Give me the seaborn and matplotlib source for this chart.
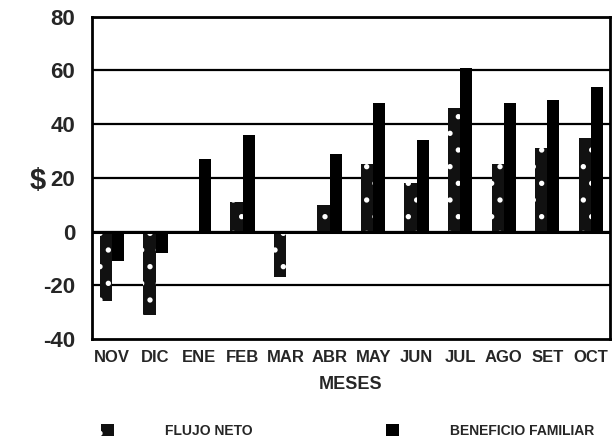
import pandas as pd
import matplotlib
matplotlib.use("Agg")
import matplotlib.pyplot as plt
import seaborn as sns

meses = ["NOV", "DIC", "ENE", "FEB", "MAR", "ABR", "MAY", "JUN", "JUL", "AGO", "SET", "OCT"]
flujo_neto = [-26, -31, 0, 11, -17, 10, 25, 18, 46, 25, 31, 35]
beneficio_familiar = [-11, -8, 27, 36, 0, 29, 48, 34, 61, 48, 49, 54]
series = ["FLUJO NETO", "BENEFICIO FAMILIAR"]

df = pd.DataFrame({
    "Mes": meses * 2,
    "Valor": flujo_neto + beneficio_familiar,
    "Serie": [series[0]] * len(meses) + [series[1]] * len(meses),
})

sns.set_style("white")
plt.rcParams["font.family"] = ["Liberation Sans", "DejaVu Sans"]
plt.rcParams["font.weight"] = "bold"
plt.rcParams["axes.unicode_minus"] = False
plt.rcParams["hatch.linewidth"] = 1.4

fig = plt.figure(figsize=(6.13, 4.42), dpi=100)
ax = fig.add_axes([0.150, 0.233, 0.845, 0.729])

sns.barplot(data=df, x="Mes", y="Valor", hue="Serie", order=meses, hue_order=series,
            palette=["black", "black"], width=0.56, saturation=1, ax=ax,
            edgecolor="black", linewidth=0)

# speckled texture on the first series
n = len(meses)
for p in ax.patches[:n]:
    p.set_facecolor("#111111")
    p.set_hatch(".")
    p.set_edgecolor("white")
    p.set_linewidth(0)

ax.set_ylim(-40, 80)
ax.set_xlim(-0.46, 11.44)
ax.set_yticks(range(-40, 81, 20))
for y in range(-20, 81, 20):
    ax.axhline(y, color="black", lw=1.6, zorder=0)
ax.axhline(0, color="black", lw=2.2, zorder=3)

for s in ax.spines.values():
    s.set_linewidth(2)
    s.set_color("black")

ax.tick_params(axis="y", length=0, pad=12, labelsize=16)
ax.tick_params(axis="x", length=0, pad=8, labelsize=12)
ax.set_ylabel("")
ax.set_xlabel("MESES", fontsize=13, fontweight="bold", labelpad=8)
fig.text(0.062, 0.59, "$", fontsize=21, fontweight="bold", ha="center", va="center")

handles, labels = ax.get_legend_handles_labels()
ax.get_legend().remove()
leg = fig.legend(handles, labels, ncol=2, loc="center left", bbox_to_anchor=(0.145, 0.025),
                 frameon=False, fontsize=10, handlelength=0.9, handleheight=0.9,
                 handletextpad=3.7, columnspacing=9.6)
leg.legend_handles[0].set_hatch(".")
leg.legend_handles[0].set_edgecolor("white")
leg.legend_handles[0].set_facecolor("#111111")

fig.savefig("out.png", dpi=100)
